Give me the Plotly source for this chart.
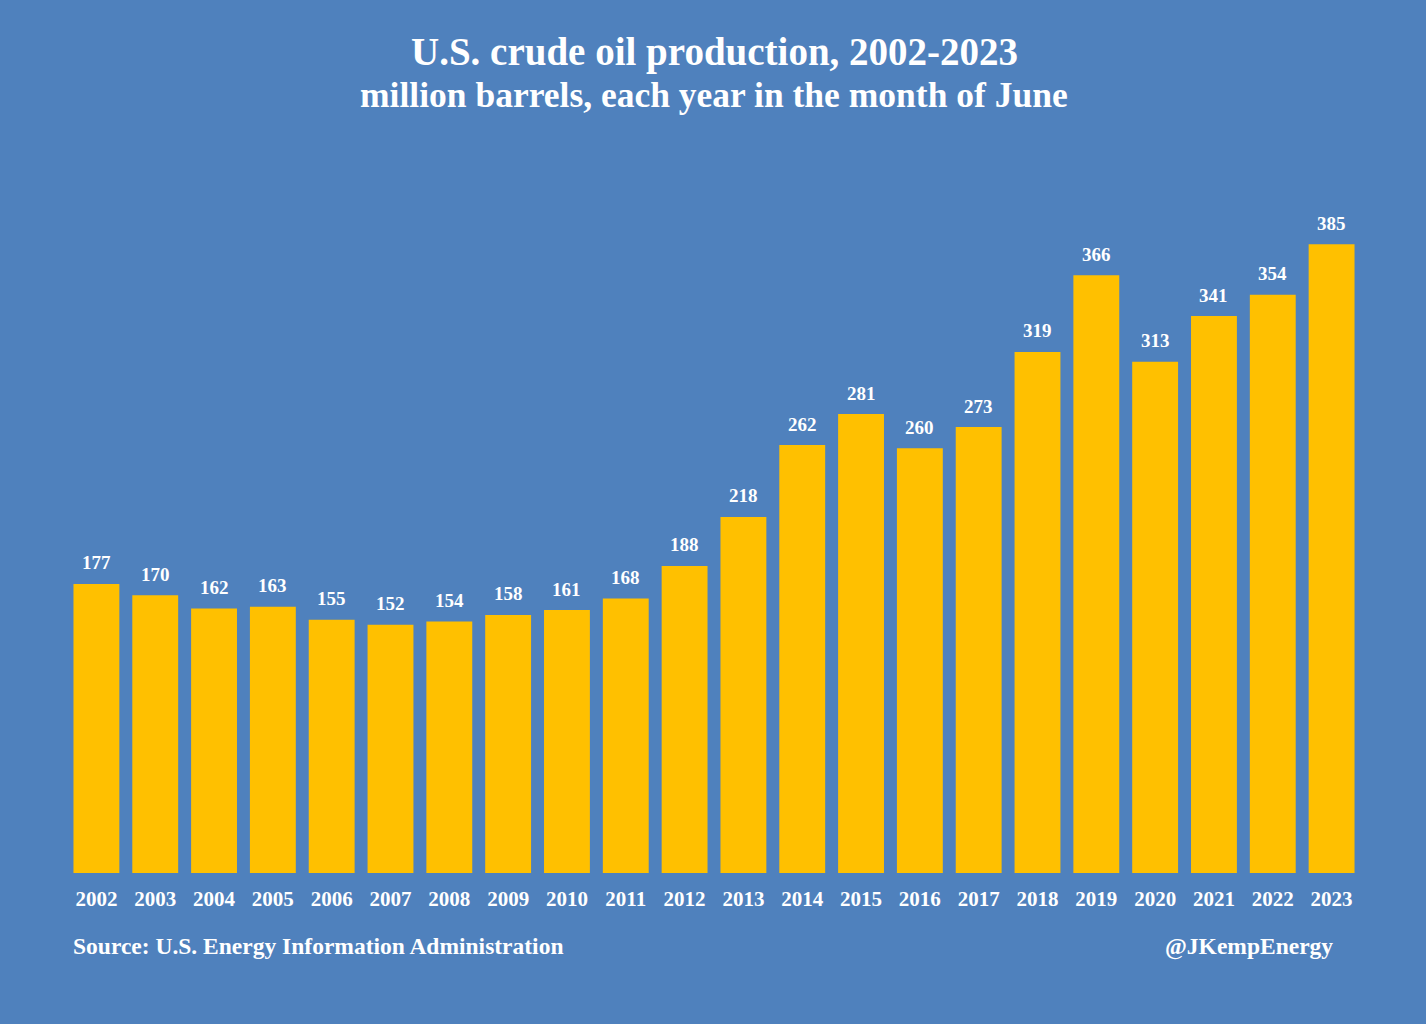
import plotly.graph_objects as go

years = [str(y) for y in range(2002, 2024)]
production = [177, 170, 162, 163, 155, 152, 154, 158, 161, 168, 188, 218,
              262, 281, 260, 273, 319, 366, 313, 341, 354, 385]

title_text = "U.S. crude oil production, 2002-2023"
subtitle_text = "million barrels, each year in the month of June"
source_text = "Source: U.S. Energy Information Administration"
handle_text = "@JKempEnergy"

BG = "#4F81BD"
BAR = "#FFC000"
FONT = "Liberation Serif, Times New Roman, serif"

W, H = 1426, 1024
L, R, T, B = 67, 65, 187, 151
PW, PH = W - L - R, H - T - B


def px(xp):
    return (xp - L) / PW


def py(yp):
    return (H - B - yp) / PH


fig = go.Figure(go.Bar(
    x=years, y=production,
    marker=dict(color=BAR, line=dict(width=0)),
    hoverinfo="x+y",
))

# value labels placed at category index positions on the x axis
value_labels = [
    dict(x=i, y=v, xref="x", yref="y", text=str(v), showarrow=False,
         yanchor="middle", yshift=21,
         font=dict(family=FONT, size=19, color="white", weight="bold"))
    for i, v in enumerate(production)
]

fig.update_layout(
    width=W, height=H,
    paper_bgcolor=BG, plot_bgcolor=BG,
    margin=dict(l=L, r=R, t=T, b=B),
    bargap=0.22,
    showlegend=False,
    font=dict(family=FONT, color="white"),
    xaxis=dict(type="category", range=[-0.5, len(years) - 0.5],
               showgrid=False, zeroline=False, showline=False,
               ticks="", tickfont=dict(family=FONT, size=21, color="white", weight="bold"),
               ticklabelstandoff=11),
    yaxis=dict(range=[0, 420], visible=False, showgrid=False, zeroline=False),
    annotations=value_labels + [
        dict(text=title_text, x=0.5, y=py(52), xref="paper", yref="paper", showarrow=False,
             font=dict(family=FONT, size=39, color="white", weight="bold"), yanchor="middle"),
        dict(text=subtitle_text, x=0.5, y=py(95), xref="paper", yref="paper", showarrow=False,
             font=dict(family=FONT, size=35.5, color="white", weight="bold"), yanchor="middle"),
        dict(text=source_text, x=px(72), y=py(946), xref="paper", yref="paper",
             showarrow=False, xanchor="left", yanchor="middle", borderpad=0,
             font=dict(family=FONT, size=23.5, color="white", weight="bold")),
        dict(text=handle_text, x=px(1334), y=py(946), xref="paper", yref="paper",
             showarrow=False, xanchor="right", yanchor="middle", borderpad=0,
             font=dict(family=FONT, size=23.5, color="white", weight="bold")),
    ],
)

fig.write_html("out.html", config={"displayModeBar": False},
               post_script="document.body.style.margin='0';document.body.style.overflow='hidden';")
